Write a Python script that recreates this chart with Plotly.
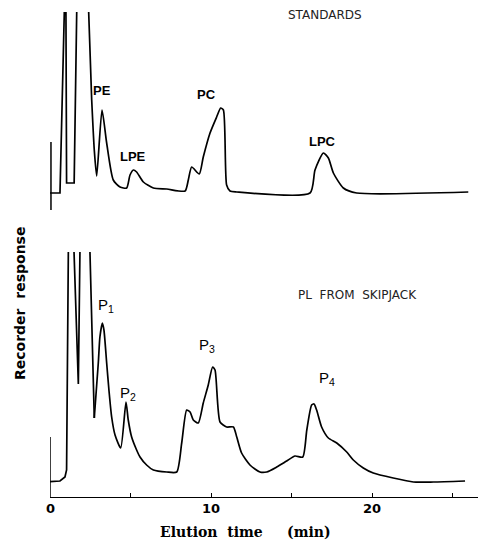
import plotly.graph_objects as go

W, H = 478, 543

# ---- data: elution time (min) and recorder response (arbitrary units) ----
std_time = [0.0, 0.62, 0.89, 0.93, 0.99, 1.03, 1.48, 1.50, 1.66, 2.00, 2.40, 2.59, 2.75, 2.90,
            3.23, 3.52, 3.93, 4.35, 4.76, 4.97, 5.18, 5.38, 5.80, 6.42, 7.25, 8.39,
            8.59, 8.80, 9.27, 9.52, 9.94, 10.35, 10.60, 10.77, 10.97, 11.18, 11.60,
            16.15, 16.46, 16.98, 17.29, 17.60, 18.22, 19.05, 25.98]
std_resp = [2.2, 2.2, 20.4, 35.0, 20.4, 3.2, 3.2, 3.2, 20.4, 40.0, 20.4, 11.5, 6.5, 3.9,
            10.5, 7.2, 3.5, 2.8, 2.7, 4.0, 4.5, 4.3, 3.3, 2.7, 2.6, 2.4,
            3.5, 4.8, 4.1, 5.8, 8.2, 9.8, 10.7, 10.5, 3.0, 2.4, 2.3,
            2.2, 4.5, 6.2, 5.7, 4.2, 2.7, 2.2, 2.3]

pl_time = [0.0, 0.50, 0.62, 0.93, 1.03, 1.14, 1.30, 1.49, 1.76, 1.86, 2.10, 2.48, 2.75,
           3.00, 3.10, 3.25, 3.35, 3.52, 3.66, 3.83, 4.04, 4.39,
           4.72, 4.86, 5.07, 5.38, 5.59, 6.00, 6.42, 7.25, 7.87,
           8.18, 8.49, 8.70, 8.90, 9.21, 9.52, 9.83, 10.10, 10.25, 10.56,
           10.97, 11.39, 11.60, 11.90, 12.42, 13.04, 13.46, 14.08, 14.70, 15.22, 15.70,
           15.95, 16.25, 16.40, 16.56, 16.87, 17.29, 17.81, 18.43, 18.84, 19.46, 20.08,
           21.32, 22.57, 23.81, 25.78]
pl_resp = [1.53, 1.55, 1.6, 2.0, 2.7, 24.6, 40.0, 24.6, 11.3, 24.6, 40.0, 24.6, 7.9,
           13.4, 16.0, 17.4, 16.7, 13.4, 10.7, 8.0, 6.2, 4.9,
           9.5, 7.7, 6.0, 4.7, 4.0, 3.2, 2.7, 2.5, 2.5,
           5.4, 8.7, 8.5, 7.7, 7.4, 9.4, 11.2, 13.0, 12.7, 7.5,
           7.0, 7.0, 6.0, 4.4, 3.2, 2.5, 2.5, 3.0, 3.6, 4.1, 4.0,
           6.7, 9.2, 9.3, 8.7, 7.0, 5.9, 5.4, 4.5, 3.7, 2.9, 2.4,
           1.9, 1.5, 1.5, 1.6]

std_labels = ["PE", "LPE", "PC", "LPC"]
std_label_time = [3.23, 5.18, 9.7, 16.9]
std_label_resp = [12.5, 5.9, 12.1, 7.4]

pl_labels = ["P<sub>1</sub>", "P<sub>2</sub>", "P<sub>3</sub>", "P<sub>4</sub>"]
pl_label_time = [3.45, 4.85, 9.75, 17.2]
pl_label_resp = [19.2, 10.4, 15.2, 11.9]

tick_vals = [0, 5, 10, 15, 20, 25]
tick_text = ["0", "", "10", "", "20", ""]

# ---- figure ----
px_per_min = 16.1
x0_px = 50
x_dom0 = x0_px / W
x_max = (W - x0_px) / px_per_min

def frac(py):
    return (H - py) / H

fig = go.Figure()
line_lin = dict(color="black", width=1.7)
line_spl = dict(color="black", width=1.7, shape="spline", smoothing=0.6)

def add_trace_split(t, r, split, yax):
    # solvent-front spikes drawn straight, the rest of the trace smoothed
    fig.add_trace(go.Scatter(x=t[:split + 1], y=r[:split + 1], mode="lines", line=line_lin,
                             xaxis="x", yaxis=yax, hoverinfo="skip", showlegend=False))
    fig.add_trace(go.Scatter(x=t[split:], y=r[split:], mode="lines", line=line_spl,
                             xaxis="x", yaxis=yax, hoverinfo="skip", showlegend=False))

add_trace_split(pl_time, pl_resp, 12, "y")
add_trace_split(std_time, std_resp, 11, "y2")

C = dict(xanchor="center", yanchor="middle", showarrow=False)
lab_font = dict(family="Liberation Sans", size=13, color="black")
ann = []
for t, xv, yv in zip(std_labels, std_label_time, std_label_resp):
    ann.append(dict(text="<b>%s</b>" % t, x=xv, y=yv, xref="x", yref="y2",
                    font=lab_font, **C))
for t, xv, yv in zip(pl_labels, pl_label_time, pl_label_resp):
    ann.append(dict(text=t, x=xv, y=yv, xref="x", yref="y",
                    font=dict(family="Liberation Sans", size=15, color="black"), **C))
ann.append(dict(text="STANDARDS", x=325 / W, y=frac(15), xref="paper", yref="paper",
                font=dict(family="DejaVu Sans", size=12, color="#222"), **C))
ann.append(dict(text="PL  FROM  SKIPJACK", x=357 / W, y=frac(295), xref="paper", yref="paper",
                font=dict(family="DejaVu Sans", size=12, color="#222"), **C))
ann.append(dict(text="<b>Recorder  response</b>", x=20 / W, y=frac(304), xref="paper", yref="paper",
                textangle=-90,
                font=dict(family="DejaVu Sans", size=14, color="black"), **C))
ann.append(dict(text="<b>Elution  time     (min)</b>", x=246 / W, y=frac(532), xref="paper", yref="paper",
                font=dict(family="DejaVu Serif", size=14, color="black"), **C))
for v, t in zip(tick_vals, tick_text):
    if t:
        ann.append(dict(text="<b>%s</b>" % t, x=v, y=frac(509), xref="x", yref="paper",
                        font=dict(family="DejaVu Sans", size=13, color="black"), **C))

shapes = [
    # bottom panel vertical axis stub
    dict(type="line", xref="x", yref="y", x0=0, x1=0, y0=0, y1=6.0,
         line=dict(color="black", width=1.5)),
    # top panel vertical marker
    dict(type="line", xref="x", yref="y2", x0=0.06, x1=0.06, y0=0.5, y1=7.3,
         line=dict(color="black", width=1.5)),
]

fig.update_layout(
    width=W, height=H, margin=dict(l=0, r=0, t=0, b=0),
    paper_bgcolor="white", plot_bgcolor="white",
    xaxis=dict(domain=[x_dom0, 1], range=[0, x_max], showgrid=False, zeroline=False,
               showline=True, linecolor="black", linewidth=1.3,
               ticks="inside", ticklen=4, tickcolor="black", tickvals=tick_vals,
               showticklabels=False, anchor="y"),
    yaxis=dict(domain=[frac(497), frac(252)], range=[0, (497 - 252) / 10],
               visible=False, anchor="x"),
    yaxis2=dict(domain=[frac(215), frac(12)], range=[0, (215 - 12) / 10],
                visible=False, anchor="x"),
    annotations=ann, shapes=shapes,
)

fig.write_html("out.html")
